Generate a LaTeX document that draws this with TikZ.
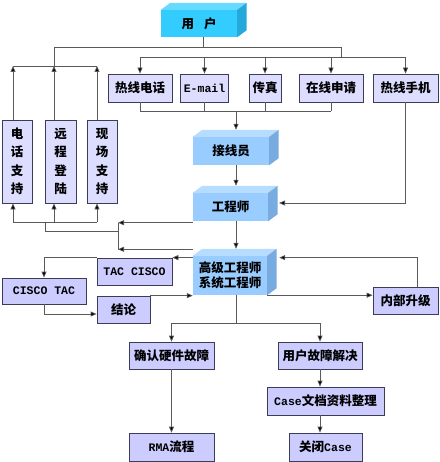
\documentclass[tikz,border=0pt]{standalone}
\usepackage{fontspec}
\setmainfont{Noto Sans CJK SC}
\newfontfamily\mono{Liberation Mono}
\usetikzlibrary{arrows.meta}
\definecolor{lncol}{HTML}{5A5A5A}
\definecolor{bordercol}{HTML}{3C3C58}
\definecolor{lavA}{HTML}{DDDDFF}
\definecolor{lavB}{HTML}{CCCCFF}
\definecolor{cyF}{HTML}{33CCFF}
\definecolor{cyT}{HTML}{66DAFF}
\definecolor{cyS}{HTML}{25A9DA}
\definecolor{blF}{HTML}{99CCFF}
\definecolor{blT}{HTML}{B6DCFF}
\definecolor{blS}{HTML}{78ABE0}
\newcommand\lat[1]{{\mono\bfseries\fontsize{11.5}{13}\selectfont #1}}
\newcommand\cubefaces[3]{%
  \fill[#2] (#1.north west) -- (#1.north east) -- ([shift={(9.5pt,7pt)}]#1.north east) -- ([shift={(9.5pt,7pt)}]#1.north west) -- cycle;
  \fill[#3] (#1.north east) -- ([shift={(9.5pt,7pt)}]#1.north east) -- ([shift={(9.5pt,7pt)}]#1.south east) -- (#1.south east) -- cycle;
}
\tikzset{
  ln/.style={draw=lncol, line width=0.75pt},
  arr/.style={ln, -{Triangle[length=6pt,width=5pt,fill=black]}},
  flat/.style={draw=bordercol, line width=0.75pt, fill=lavA, inner sep=0pt,
    font=\bfseries\fontsize{12.5}{14}\selectfont, minimum height=28},
  flatB/.style={flat, fill=lavB},
  cube/.style={inner sep=0pt, font=\bfseries\fontsize{12.5}{15}\selectfont, align=center},
  vbox/.style={flat, align=center, minimum width=30, minimum height=83,
    font=\bfseries\fontsize{12.5}{18.5}\selectfont},
}
\begin{document}
\begin{tikzpicture}[x=1pt,y=-1pt]
\useasboundingbox (0,0) rectangle (439,462);
% 3D boxes
\node[cube, fill=cyF, minimum width=76, minimum height=27] (user) at (199,23.5) {用\hspace{10pt}户};
\cubefaces{user}{cyT}{cyS}
\node[cube, fill=blF, minimum width=76, minimum height=28] (jxy) at (231,151) {接线员};
\cubefaces{jxy}{blT}{blS}
\node[cube, fill=blF, minimum width=75, minimum height=28] (gcs) at (230.5,207) {工程师};
\cubefaces{gcs}{blT}{blS}
\node[cube, fill=blF, minimum width=74, minimum height=39] (gj) at (230,275.5) {高级工程师\\系统工程师};
\cubefaces{gj}{blT}{blS}
% top row
\node[flat, minimum width=64] (rx) at (140,88) {热线电话};
\node[flat, minimum width=48] (em) at (204.5,88) {\lat{E-mail}};
\node[flat, minimum width=32] (cz) at (265,88) {传真};
\node[flat, minimum width=64] (zx) at (331,88) {在线申请};
\node[flat, minimum width=65] (sj) at (405.5,88) {热线手机};
% support boxes
\node[vbox] (dh) at (17,161.5) {电\\话\\支\\持};
\node[vbox, minimum width=31] (yc) at (60.5,161.5) {远\\程\\登\\陆};
\node[vbox] (xc) at (102,161.5) {现\\场\\支\\持};
% middle
\node[flatB, minimum width=75, minimum height=27] (tac) at (134.5,271.5) {\lat{TAC CISCO}};
\node[flatB, minimum width=84, minimum height=26] (ct) at (44,291) {\lat{CISCO TAC}};
\node[flatB, minimum width=53, minimum height=27] (jl) at (123.5,309.5) {结论};
\node[flatB, minimum width=65, minimum height=27] (nb) at (405.5,300.5) {内部升级};
% bottom
\node[flatB, minimum width=85, minimum height=27] (qr) at (171.5,355.5) {确认硬件故障};
\node[flatB, minimum width=84, minimum height=27] (yh) at (320,355.5) {用户故障解决};
\node[flatB, minimum width=117] (cs) at (325.5,401) {\lat{Case}文档资料整理};
\node[flatB, minimum width=73] (gb) at (325.5,447) {关闭\lat{Case}};
\node[flatB, minimum width=85] (rma) at (171.5,447) {\lat{RMA}流程};
% coordinates
\coordinate (uj) at (203,47);
\coordinate (lj) at (54,47);
\coordinate (rj) at (341,47);
\coordinate (rb) at (341,57);
\coordinate (lb) at (54,66);
\coordinate (s1) at (13,0);
\coordinate (s2) at (54,0);
\coordinate (s3) at (97,0);
\coordinate (bb) at (0,111);
\coordinate (mx) at (236,0);
\coordinate (lb2) at (0,222);
\coordinate (c45) at (45,231);
\coordinate (mvt) at (118,222.5);
\coordinate (mvb) at (118,249.5);
\coordinate (g2) at (279,203);
\coordinate (bt) at (0,323);
% user fan-out
\draw[ln] ([xshift=4pt]user.south) -- (uj);
\draw[ln] (lj) -- (rj) -- (rb);
\draw[ln] (rb -| rx) -- (rb -| sj);
\foreach \n in {rx,em,cz,zx,sj} \draw[arr] (rb -| \n) -- (\n.north);
\draw[ln] (lj) -- (lb);
\draw[ln] (lb -| s1) -- (lb -| s3);
\foreach \s/\n in {s1/dh,s2/yc,s3/xc} \draw[arr] (\n.north -| \s) -- (lb -| \s);
% channels to operator
\foreach \n in {rx,em,cz,zx} \draw[ln] (\n.south) -- (\n.south |- bb);
\draw[ln] (bb -| rx) -- (bb -| zx);
\draw[arr] (bb -| mx) -- ([yshift=7pt]jxy.north -| mx);
\draw[arr] (jxy.south -| mx) -- ([yshift=7pt]gcs.north -| mx);
\draw[arr] (sj.south) |- (g2);
% engineers to support
\draw[arr] ([yshift=-1.5pt]gcs.south west) -- ([yshift=-1.5pt]gcs.south west -| mvt);
\draw[arr] ([yshift=6.5pt]gj.north west) -- ([yshift=6.5pt]gj.north west -| mvb);
\draw[ln] (mvt) -- (mvb);
\draw[ln] (c45 |- lb2) -- (c45) -- (c45 -| mvt);
\draw[ln] (lb2 -| s1) -- (lb2 -| s3);
\foreach \s/\n in {s1/dh,s2/yc,s3/xc} \draw[arr] (lb2 -| \s) -- (\n.south -| \s);
% engineer to senior
\draw[arr] (gcs.south -| mx) -- ([yshift=7pt]gj.north -| mx);
% senior loop
\draw[arr] (gj.west |- tac.north) -- (tac.north east);
\draw[arr] (tac.north west) -| (ct.north);
\draw[arr] (ct.south) |- ([yshift=-4.5pt]jl.west);
\draw[arr] (jl.north east) -- (jl.north east -| gj.west);
\draw[arr] (gj.south east) -- (gj.south east -| nb.west);
\draw[arr] ([xshift=11.5pt]nb.north) |- ([xshift=12pt]gj.east |- tac.north);
% to bottom
\draw[ln] (gj.south -| mx) -- (bt -| mx);
\draw[ln] (bt -| qr) -- (bt -| yh);
\draw[arr] (bt -| qr) -- (qr.north);
\draw[arr] (bt -| yh) -- (yh.north);
\draw[arr] (qr.south) -- (rma.north);
\draw[arr] (yh.south) -- (yh.south |- cs.north);
\draw[arr] (yh.south |- cs.south) -- (yh.south |- gb.north);
\end{tikzpicture}
\end{document}
